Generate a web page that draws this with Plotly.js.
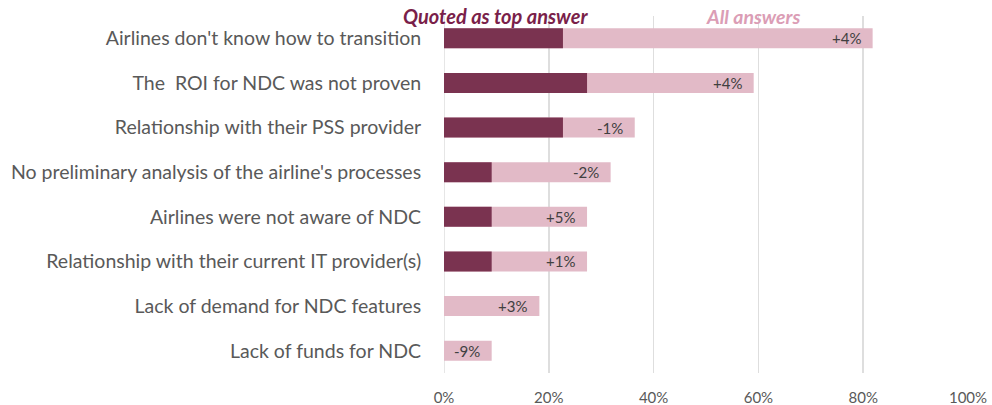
<!DOCTYPE html>
<html>
<head>
<meta charset="utf-8">
<script src="https://cdn.plot.ly/plotly-3.0.1.min.js"></script>
<style>html,body{margin:0;padding:0;background:#fff;}#chart{width:992px;height:405px;}</style>
</head>
<body>
<div id="chart"></div>
<script>
const categories = [
  "Airlines don't know how to transition",
  "The  ROI for NDC was not proven",
  "Relationship with their PSS provider",
  "No preliminary analysis of the airline's processes",
  "Airlines were not aware of NDC",
  "Relationship with their current IT provider(s)",
  "Lack of demand for NDC features",
  "Lack of funds for NDC"
];
const topAnswer = [0.227, 0.273, 0.227, 0.091, 0.091, 0.091, 0, 0];
const allAnswers = [0.818, 0.591, 0.364, 0.318, 0.273, 0.273, 0.182, 0.091];
const changeLabels = ["+4%", "+4%", "-1%", "-2%", "+5%", "+1%", "+3%", "-9%"];
const xTickVals = [0, 0.2, 0.4, 0.6, 0.8, 1.0];
const xTickText = ["0%", "20%", "40%", "60%", "80%", "100%"];

const FONT = "Lato, 'Open Sans', sans-serif";

const traces = [
  {type:'bar', orientation:'h', y:categories, x:allAnswers, name:'All answers',
   marker:{color:'#E2BAC7', line:{width:0}}, width:0.45, hoverinfo:'skip'},
  {type:'bar', orientation:'h', y:categories, x:topAnswer, name:'Quoted as top answer',
   marker:{color:'#7A3350', line:{width:0}}, width:0.45, hoverinfo:'skip'}
];

const annotations = categories.map((c,i)=>({
  x: allAnswers[i], y: c, xref:'x', yref:'y', text: changeLabels[i],
  xanchor:'right', yanchor:'middle', xshift:-10, showarrow:false,
  font:{family:FONT, size:15, color:'#404040'}
}));
annotations.push({x:0.098, y:1, xref:'x', yref:'paper', yanchor:'middle', yshift:0,
  text:'<b><i>Quoted as top answer</i></b>', showarrow:false,
  font:{family:FONT, size:20, color:'#7A1F4A'}});
annotations.push({x:0.59, y:1, xref:'x', yref:'paper', yanchor:'middle', yshift:0,
  text:'<b><i>All answers</i></b>', showarrow:false,
  font:{family:FONT, size:19.5, color:'#DB9DB5'}});

const layout = {
  width:992, height:405,
  margin:{l:443.5, r:23.5, t:15.6, b:31.6, pad:0},
  paper_bgcolor:'#fff', plot_bgcolor:'#fff',
  barmode:'overlay', showlegend:false,
  font:{family:FONT, color:'#595959'},
  xaxis:{range:[0,1.0], tickvals:xTickVals, ticktext:xTickText,
    showgrid:true, gridcolor:'#DEDEDE', gridwidth:1.5, zeroline:false,
    ticks:'outside', ticklen:11, tickcolor:'rgba(0,0,0,0)',
    tickfont:{family:FONT, size:15, color:'#595959'}, fixedrange:true},
  yaxis:{autorange:'reversed', type:'category', showgrid:false, zeroline:false,
    ticks:'outside', ticklen:18, tickcolor:'rgba(0,0,0,0)',
    tickfont:{family:FONT, size:19.5, color:'#595959'}, fixedrange:true},
  shapes:[{type:'line', xref:'x', yref:'paper', x0:0, x1:0, y0:0, y1:1,
    line:{color:'#DEDEDE', width:1.5}, layer:'below'}],
  annotations:annotations
};

Plotly.newPlot('chart', traces, layout, {displayModeBar:false, staticPlot:true});
</script>
</body>
</html>
